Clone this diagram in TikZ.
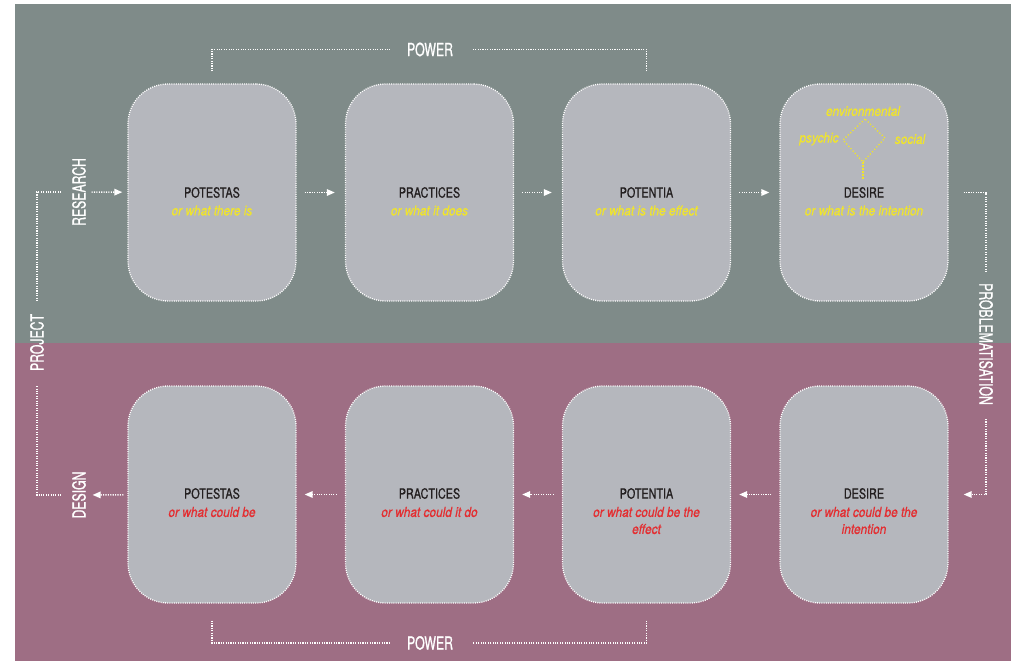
\documentclass[tikz,border=0pt]{standalone}
\usepackage{fontspec}
\setmainfont{TeX Gyre Heros}
\newfontfamily\labfont{TeX Gyre Heros}[FakeStretch=0.68,FakeBold=0.9]
\newfontfamily\titfont{TeX Gyre Heros}[FakeStretch=0.77,FakeBold=0.8]
\newfontfamily\subfont{TeX Gyre Heros}[FakeStretch=0.86,FakeBold=0.6]
\usetikzlibrary{arrows.meta}
\definecolor{topbg}{RGB}{127,139,137}
\definecolor{botbg}{RGB}{158,110,132}
\definecolor{boxgray}{RGB}{181,183,189}
\definecolor{ylw}{RGB}{240,228,45}
\definecolor{rd}{RGB}{228,45,48}
\definecolor{ink}{RGB}{35,31,32}
\tikzset{
  stagebox/.style={draw=white, line width=1.3pt, dash pattern=on 1pt off 1.2pt, fill=boxgray, rounded corners=40pt, minimum width=168pt, minimum height=217pt, inner sep=0pt},
  dl/.style={draw=white, line width=1.5pt, dash pattern=on 1.1pt off 1.3pt},
  arr/.style={dl, -{Triangle[length=8pt,width=6.5pt]}},
  lab/.style={text=white, font=\labfont\fontsize{18}{20}\selectfont, inner sep=0pt},
  ttl/.style={text=ink, font=\titfont\fontsize{14}{16}\selectfont, inner sep=0pt},
  subt/.style={font=\subfont\itshape\fontsize{13.8}{17}\selectfont, inner sep=0pt, align=center},
  ysub/.style={subt, text=ylw},
  rsub/.style={subt, text=rd},
  dia/.style={draw=ylw, line width=1.3pt, dash pattern=on 1.2pt off 2pt}
}
\begin{document}
\begin{tikzpicture}[x=1pt,y=-1pt]
\useasboundingbox (0,0) rectangle (1015,661);
\fill[topbg] (15,4) rectangle (1011,343);
\fill[botbg] (15,343) rectangle (1011,661);

% top row boxes
\node[stagebox] (t1) at (212,192.5) {};
\node[stagebox] (t2) at (429.5,192.5) {};
\node[stagebox] (t3) at (646.5,192.5) {};
\node[stagebox] (t4) at (864,192.5) {};
% bottom row boxes
\node[stagebox] (b1) at (212,494.5) {};
\node[stagebox] (b2) at (429.5,494.5) {};
\node[stagebox] (b3) at (646.5,494.5) {};
\node[stagebox] (b4) at (864,494.5) {};

% top texts
\node[ttl] (t1a) at (212,192.5) {POTESTAS};
\node[ysub] (t1b) at (212,210.5) {or what there is};
\node[ttl] (t2a) at (429.5,192.5) {PRACTICES};
\node[ysub] (t2b) at (429.5,210.5) {or what it does};
\node[ttl] (t3a) at (646.5,192.5) {POTENTIA};
\node[ysub] (t3b) at (646.5,210.5) {or what is the effect};
\node[ttl] (t4a) at (864,192.5) {DESIRE};
\node[ysub] (t4b) at (864,210.5) {or what is the intention};

% desire diamond
\node[ysub] (env) at (863,111) {environmental};
\node[ysub] (psy) at (819,139) {psychic};
\node[ysub] (soc) at (910,139) {social};
\coordinate (dT) at (865,119);
\coordinate (dL) at (843,140);
\coordinate (dB) at (863,162);
\coordinate (dR) at (885,138);
\coordinate (dS) at (863,180);
\draw[dia] (dT) -- (dL) -- (dB) -- (dR) -- cycle;
\draw[dia, line width=2pt, dash pattern=on 1.5pt off 1.5pt] (dB) -- (dS);

% bottom texts
\node[ttl] (b1a) at (212,493.5) {POTESTAS};
\node[rsub] (b1b) at (212,512) {or what could be};
\node[ttl] (b2a) at (429.5,493.5) {PRACTICES};
\node[rsub] (b2b) at (429.5,512) {or what could it do};
\node[ttl] (b3a) at (646.5,493.5) {POTENTIA};
\node[rsub] (b3b) at (646.5,520.5) {or what could be the\\effect};
\node[ttl] (b4a) at (864,493.5) {DESIRE};
\node[rsub] (b4b) at (864,520.5) {or what could be the\\intention};

% row arrows
\draw[arr, shorten <=8pt, shorten >=10pt] (t1) -- (t2);
\draw[arr, shorten <=8pt, shorten >=10pt] (t2) -- (t3);
\draw[arr, shorten <=8pt, shorten >=10pt] (t3) -- (t4);
\draw[arr, shorten <=8pt, shorten >=8pt] (b4) -- (b3);
\draw[arr, shorten <=8pt, shorten >=8pt] (b3) -- (b2);
\draw[arr, shorten <=8pt, shorten >=8pt] (b2) -- (b1);

% side labels
\node[lab, rotate=90] (research) at (79,192) {RESEARCH};
\node[lab, rotate=90] (project) at (37,342.5) {PROJECT};
\node[lab, rotate=90] (design) at (79,495) {DESIGN};
\node[lab, rotate=-90] (problem) at (986,344) {PROBLEMATISATION};

\draw[arr, shorten <=5.5pt, shorten >=5pt] (research) -- (t1);
\draw[dl, shorten <=18pt, shorten >=12.5pt] (research.center) -| (project);
\draw[dl, shorten <=15pt, shorten >=11.5pt] (project) |- (design);
\draw[arr, shorten <=4pt, shorten >=6.5pt] (b1) -- (design);

\draw[dl, shorten <=15pt, shorten >=10pt] (t4) -| (problem);
\draw[arr, shorten <=14pt, shorten >=15pt] (problem) |- (b4);

% power brackets
\node[lab] (powtop) at (430,49.5) {POWER};
\node[lab] (powbot) at (430,643) {POWER};
\draw[dl, shorten <=12pt, shorten >=17pt] (t1.north) |- (powtop);
\draw[dl, shorten <=12pt, shorten >=19pt] (t3.north) |- (powtop);
\draw[dl, shorten <=17pt, shorten >=17pt] (b1.south) |- (powbot);
\draw[dl, shorten <=17pt, shorten >=19pt] (b3.south) |- (powbot);
\end{tikzpicture}
\end{document}
